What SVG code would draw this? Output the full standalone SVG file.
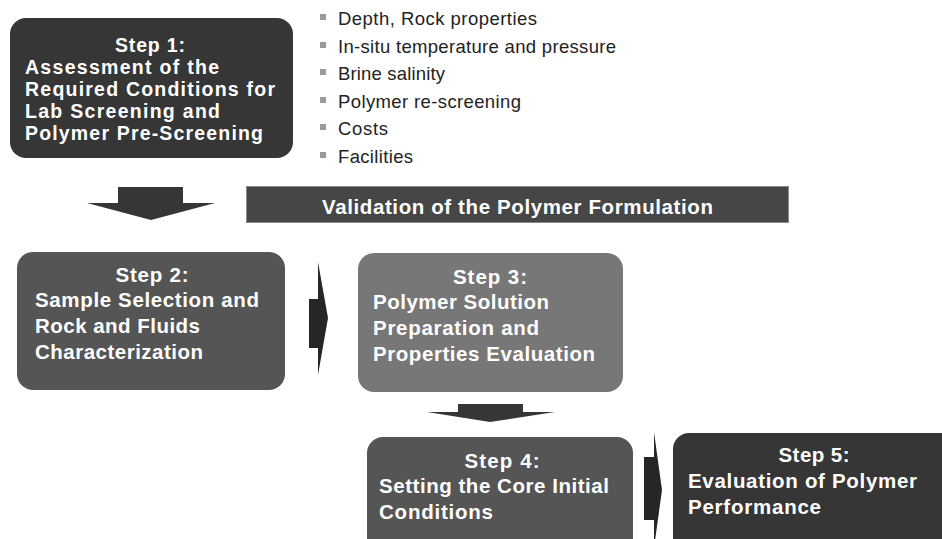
<svg xmlns="http://www.w3.org/2000/svg" width="942" height="539" viewBox="0 0 942 539">
<style>
.t{font-family:"Liberation Sans",Arial,sans-serif;font-weight:bold;fill:#fff;font-size:20.5px}
.s1{font-size:19.5px}
.b{font-family:"Liberation Sans",Arial,sans-serif;fill:#222;font-size:18.5px}
.c{text-anchor:middle}
.arr{fill:#363636}
.arr2{fill:#262626}
</style>
<rect width="942" height="539" fill="#fff"/>
<g id="step1">
<rect x="10" y="18" width="283" height="140" rx="16" fill="#363636"/>
<text class="t s1 c" x="150" y="52" textLength="70" lengthAdjust="spacing">Step 1:</text>
<text class="t s1" x="25" y="74" textLength="194" lengthAdjust="spacing">Assessment of the</text>
<text class="t s1" x="25" y="96" textLength="250" lengthAdjust="spacing">Required Conditions for</text>
<text class="t s1" x="25" y="118" textLength="195" lengthAdjust="spacing">Lab Screening and</text>
<text class="t s1" x="25" y="140" textLength="238" lengthAdjust="spacing">Polymer Pre-Screening</text>
</g>
<g id="bullets">
<g fill="#9a9a9a"><rect x="320" y="14" width="6" height="6"/><rect x="320" y="42" width="6" height="6"/><rect x="320" y="69" width="6" height="6"/><rect x="320" y="97" width="6" height="6"/><rect x="320" y="124" width="6" height="6"/><rect x="320" y="152" width="6" height="6"/></g>
<text class="b" x="338" y="25" textLength="199" lengthAdjust="spacing">Depth, Rock properties</text>
<text class="b" x="338" y="53" textLength="278" lengthAdjust="spacing">In-situ temperature and pressure</text>
<text class="b" x="338" y="80" textLength="107" lengthAdjust="spacing">Brine salinity</text>
<text class="b" x="338" y="108" textLength="183" lengthAdjust="spacing">Polymer re-screening</text>
<text class="b" x="338" y="135" textLength="50" lengthAdjust="spacing">Costs</text>
<text class="b" x="338" y="163" textLength="75" lengthAdjust="spacing">Facilities</text>
</g>
<g id="validation">
<rect x="246.5" y="186.5" width="542" height="36" fill="#464646" stroke="#8a8a8a" stroke-width="1"/>
<text class="t c" x="517.5" y="214" font-size="19.5" textLength="391" lengthAdjust="spacing">Validation of the Polymer Formulation</text>
</g>
<g id="step2">
<rect x="17" y="252" width="268" height="138" rx="16" fill="#555"/>
<text class="t c" x="152" y="282" textLength="73" lengthAdjust="spacing">Step 2:</text>
<text class="t" x="35" y="307" textLength="224" lengthAdjust="spacing">Sample Selection and</text>
<text class="t" x="35" y="333" textLength="165" lengthAdjust="spacing">Rock and Fluids</text>
<text class="t" x="35" y="359" textLength="168" lengthAdjust="spacing">Characterization</text>
</g>
<g id="step3">
<rect x="358" y="253" width="265" height="139" rx="16" fill="#777"/>
<text class="t c" x="490" y="284" textLength="74" lengthAdjust="spacing">Step 3:</text>
<text class="t" x="373" y="309" textLength="176" lengthAdjust="spacing">Polymer Solution</text>
<text class="t" x="373" y="335" textLength="166" lengthAdjust="spacing">Preparation and</text>
<text class="t" x="373" y="361" textLength="222" lengthAdjust="spacing">Properties Evaluation</text>
</g>
<g id="step4">
<rect x="367" y="437" width="266" height="120" rx="16" fill="#555"/>
<text class="t c" x="502" y="468" textLength="75" lengthAdjust="spacing">Step 4:</text>
<text class="t" x="379" y="493" textLength="230" lengthAdjust="spacing">Setting the Core Initial</text>
<text class="t" x="379" y="519" textLength="114" lengthAdjust="spacing">Conditions</text>
</g>
<g id="step5">
<rect x="673" y="433" width="290" height="124" rx="16" fill="#363636"/>
<text class="t c" x="814" y="462" textLength="71" lengthAdjust="spacing">Step 5:</text>
<text class="t" x="688" y="488" textLength="229" lengthAdjust="spacing">Evaluation of Polymer</text>
<text class="t" x="688" y="514" textLength="133" lengthAdjust="spacing">Performance</text>
</g>
<g id="connectors">
<polygon class="arr" points="118,187 183,187 183,203 215,203 151,220 87,203 118,203"/>
<polygon class="arr2" points="309,299 318,299 318,262 328,318 318,375 318,348 309,348"/>
<polygon class="arr" points="458,404 523,404 523,412 555,412 490,422 427,412 458,412"/>
<polygon class="arr2" points="644,457 654,457 654,432 662,490 654,548 654,520 644,520"/>
</g>
</svg>
